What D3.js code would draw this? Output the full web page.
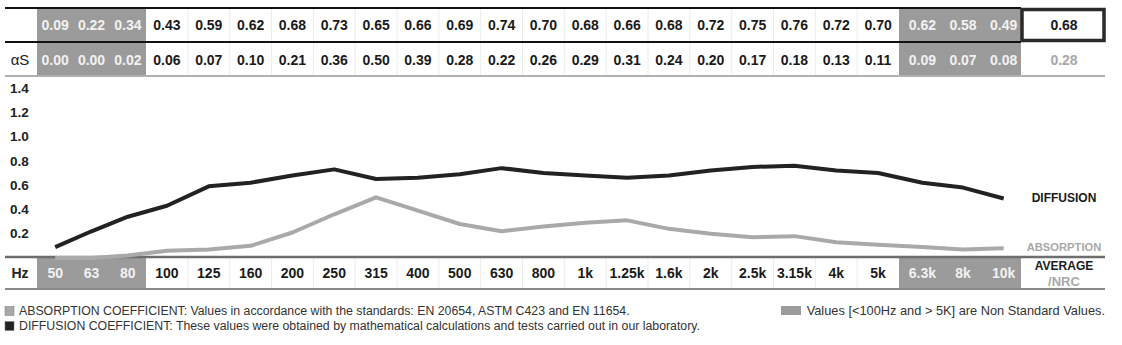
<!DOCTYPE html>
<html>
<head>
<meta charset="utf-8">
<script src="https://cdn.jsdelivr.net/npm/d3@7"></script>
<style>
  body { margin: 0; background: #fff; }
  svg { display: block; }
  text { font-family: "Liberation Sans Narrow", "Liberation Sans", Arial, sans-serif; }
</style>
</head>
<body>
<svg id="chart" width="1122" height="345"></svg>
<script>
// frequency bands (Hz)
const freqs = ["50", "63", "80", "100", "125", "160", "200", "250", "315", "400", "500", "630",
  "800", "1k", "1.25k", "1.6k", "2k", "2.5k", "3.15k", "4k", "5k", "6.3k", "8k", "10k"];
// diffusion coefficient per band
const diffusion = [0.09, 0.22, 0.34, 0.43, 0.59, 0.62, 0.68, 0.73, 0.65, 0.66, 0.69, 0.74,
  0.70, 0.68, 0.66, 0.68, 0.72, 0.75, 0.76, 0.72, 0.70, 0.62, 0.58, 0.49];
// absorption coefficient (alpha S) per band
const absorption = [0.00, 0.00, 0.02, 0.06, 0.07, 0.10, 0.21, 0.36, 0.50, 0.39, 0.28, 0.22,
  0.26, 0.29, 0.31, 0.24, 0.20, 0.17, 0.18, 0.13, 0.11, 0.09, 0.07, 0.08];
const diffusionAvg = 0.68;
const absorptionNrc = 0.28;
const yTicks = [0.2, 0.4, 0.6, 0.8, 1.0, 1.2, 1.4];
// bands outside 100Hz..5k are non standard (shaded)
const nonStandard = ["50", "63", "80", "6.3k", "8k", "10k"];

const svg = d3.select("#chart");
const fmt = d3.format(".2f");

// column edges: shaded columns are narrower than standard ones
const colX = d3.scaleLinear().domain([0, 3, 21, 24]).range([37, 146, 899, 1021]);
const xCenter = i => colX(i + 0.5) + (i > 20 ? 3 : 0);
const y = d3.scaleLinear().domain([0, 1.4]).range([258, 88]);

const rowHz = [257, 289];

// shaded blocks
[[0, 3], [21, 24]].forEach(([a, b]) => {
  [[8, 76], rowHz].forEach(([t, bt]) => {
    svg.append("rect")
      .attr("x", colX(a)).attr("y", t)
      .attr("width", colX(b) - colX(a)).attr("height", bt - t)
      .attr("fill", "#9b9b9b");
  });
});

// faint column separators in the white part
d3.range(4, 21).forEach(i => {
  [[8, 76], rowHz].forEach(([t, bt]) => {
    svg.append("line")
      .attr("x1", colX(i)).attr("x2", colX(i))
      .attr("y1", t).attr("y2", bt)
      .attr("stroke", "#ececec").attr("stroke-width", 1);
  });
});

// horizontal rules
svg.append("line").attr("x1", 5).attr("x2", 1021).attr("y1", 8).attr("y2", 8)
  .attr("stroke", "#111").attr("stroke-width", 2);
svg.append("line").attr("x1", 5).attr("x2", 1021).attr("y1", 42).attr("y2", 42)
  .attr("stroke", "#111").attr("stroke-width", 2);
svg.append("line").attr("x1", 5).attr("x2", 1105).attr("y1", 76).attr("y2", 76)
  .attr("stroke", "#b0b0b0").attr("stroke-width", 2);
svg.append("line").attr("x1", 5).attr("x2", 1105).attr("y1", 257).attr("y2", 257)
  .attr("stroke", "#6e6e6e").attr("stroke-width", 2.5);
svg.append("line").attr("x1", 5).attr("x2", 1105).attr("y1", 289).attr("y2", 289)
  .attr("stroke", "#8a8a8a").attr("stroke-width", 2);

// average box
svg.append("rect").attr("x", 1022).attr("y", 9.5).attr("width", 82).attr("height", 31)
  .attr("fill", "none").attr("stroke", "#2a2a2a").attr("stroke-width", 3.5);

const cellText = (vals, yMid) => {
  svg.append("g").selectAll("text").data(vals).join("text")
    .attr("x", (d, i) => xCenter(i))
    .attr("y", yMid)
    .attr("dy", "0.35em")
    .attr("text-anchor", "middle")
    .attr("font-size", 14)
    .attr("font-weight", "bold")
    .attr("fill", (d, i) => nonStandard.includes(freqs[i]) ? "#f2f2f2" : "#1a1a1a")
    .text(d => typeof d === "number" ? fmt(d) : d);
};
cellText(diffusion, 25);
cellText(absorption, 60);
cellText(freqs, 273);

svg.append("text").attr("x", 1064).attr("y", 25).attr("dy", "0.35em")
  .attr("text-anchor", "middle").attr("font-size", 14).attr("font-weight", "bold")
  .attr("fill", "#1a1a1a").text(fmt(diffusionAvg));
svg.append("text").attr("x", 1064).attr("y", 60).attr("dy", "0.35em")
  .attr("text-anchor", "middle").attr("font-size", 14).attr("font-weight", "bold")
  .attr("fill", "#a8a8a8").text(fmt(absorptionNrc));

svg.append("text").attr("x", 20).attr("y", 60).attr("dy", "0.35em")
  .attr("text-anchor", "middle").attr("font-size", 15).attr("fill", "#222")
  .style("font-family", "'Liberation Sans', Arial, sans-serif").text("αS");
svg.append("text").attr("x", 20).attr("y", 273).attr("dy", "0.35em")
  .attr("text-anchor", "middle").attr("font-size", 14).attr("font-weight", "bold")
  .attr("fill", "#222").text("Hz");
svg.append("text").attr("x", 1064).attr("y", 266).attr("dy", "0.35em")
  .attr("text-anchor", "middle").attr("font-size", 12).attr("font-weight", "bold")
  .attr("fill", "#1a1a1a").text("AVERAGE");
svg.append("text").attr("x", 1064).attr("y", 281).attr("dy", "0.35em")
  .attr("text-anchor", "middle").attr("font-size", 13).attr("font-weight", "bold")
  .attr("fill", "#a8a8a8").text("/NRC");

// y tick labels
svg.append("g").selectAll("text").data(yTicks).join("text")
  .attr("x", 10).attr("y", d => y(d)).attr("dy", "0.35em")
  .attr("font-size", 13.5).attr("font-weight", "bold").attr("fill", "#222")
  .text(d => d3.format(".1f")(d));

// lines
const line = d3.line().x((d, i) => xCenter(i)).y(d => y(d));
svg.append("path").datum(absorption).attr("d", line)
  .attr("fill", "none").attr("stroke", "#a9a9a9").attr("stroke-width", 4)
  .attr("stroke-linejoin", "round");
svg.append("path").datum(diffusion).attr("d", line)
  .attr("fill", "none").attr("stroke", "#222").attr("stroke-width", 4)
  .attr("stroke-linejoin", "round");

svg.append("text").attr("x", 1064).attr("y", 198).attr("dy", "0.35em")
  .attr("text-anchor", "middle").attr("font-size", 12).attr("font-weight", "bold")
  .attr("fill", "#1a1a1a").text("DIFFUSION");
svg.append("text").attr("x", 1064).attr("y", 247).attr("dy", "0.35em")
  .attr("text-anchor", "middle").attr("font-size", 11.2).attr("font-weight", "bold")
  .attr("fill", "#a8a8a8").text("ABSORPTION");

// legend
const legend = [
  { y: 311, fill: "#a9a9a9", label: "ABSORPTION COEFFICIENT: Values in accordance with the standards: EN 20654, ASTM C423 and EN 11654." },
  { y: 326, fill: "#222", label: "DIFFUSION COEFFICIENT: These values were obtained by mathematical calculations and tests carried out in our laboratory." }
];
legend.forEach(l => {
  svg.append("rect").attr("x", 5).attr("y", l.y - 4.5).attr("width", 9).attr("height", 9)
    .attr("fill", l.fill).attr("stroke", "#777").attr("stroke-width", 0.5);
  svg.append("text").attr("x", 19).attr("y", l.y).attr("dy", "0.35em")
    .attr("font-size", 12.3).attr("fill", "#333").text(l.label);
});
svg.append("rect").attr("x", 781).attr("y", 306).attr("width", 20).attr("height", 9)
  .attr("fill", "#9b9b9b");
svg.append("text").attr("x", 1105).attr("y", 311).attr("dy", "0.35em")
  .attr("text-anchor", "end").attr("font-size", 12.8).attr("fill", "#333")
  .text("Values [<100Hz and > 5K] are Non Standard Values.");
</script>
</body>
</html>
